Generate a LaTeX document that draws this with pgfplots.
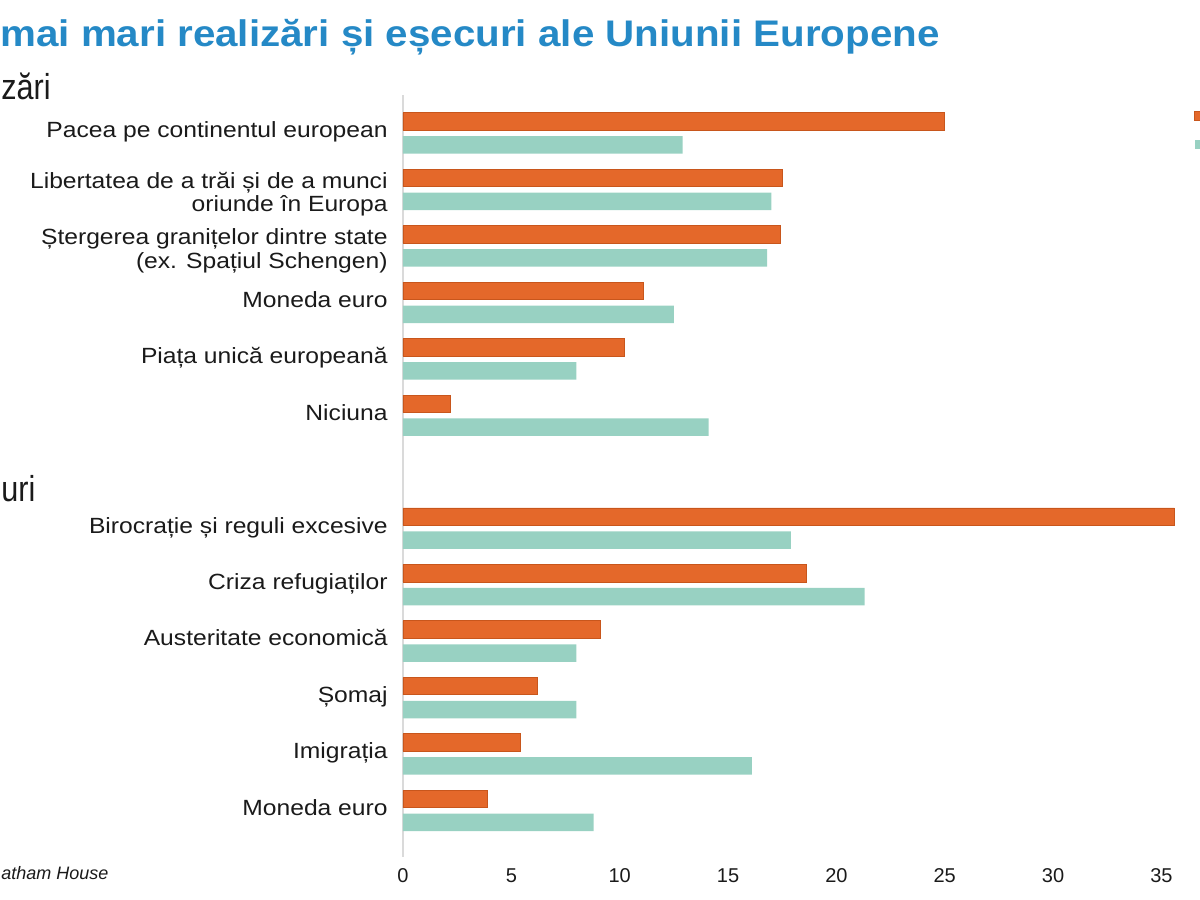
\documentclass[border=0pt]{standalone}
\usepackage{pgfplots}
\pgfplotsset{compat=1.18}
\usepackage{fontspec}
\setmainfont{Liberation Sans}
\usepackage{graphicx}
\definecolor{orangebar}{HTML}{E4682A}
\definecolor{orangeedge}{HTML}{C8561C}
\definecolor{tealbar}{HTML}{98D1C2}
\definecolor{titleblue}{HTML}{2589C6}
\definecolor{axisgray}{HTML}{DADADA}
\definecolor{txt}{HTML}{1A1A1A}
\newcommand{\lab}[1]{\scalebox{1.12}[1]{\begin{tabular}{@{}r@{}}#1\end{tabular}}}
\newcommand{\labb}[1]{\raisebox{-2.8pt}[\height][\depth]{\scalebox{1.12}[1]{\begin{tabular}{@{}r@{}}#1\end{tabular}}}}
\begin{document}
\begin{tikzpicture}[x=0.5pt,y=0.5pt]
\begin{axis}[
  at={(0,0)}, anchor=south west,
  scale only axis, width=390.06pt, height=381pt,
  xbar, bar width=8.75pt,
  xmin=0, xmax=36, ymin=-12.82, ymax=0.678,
  xtick={0,5,...,35},
  ytick={0,-1,-2,-3,-4,-5,-7,-8,-9,-10,-11,-12},
  yticklabels={
    {\lab{Pacea pe continentul european}},
    {\labb{Libertatea de a trăi și de a munci\\oriunde în Europa}},
    {\labb{Ștergerea granițelor dintre state\\(ex. Spațiul Schengen)}},
    {\lab{Moneda euro}},
    {\lab{Piața unică europeană}},
    {\lab{Niciuna}},
    {\lab{Birocrație și reguli excesive}},
    {\lab{Criza refugiaților}},
    {\lab{Austeritate economică}},
    {\lab{Șomaj}},
    {\lab{Imigrația}},
    {\lab{Moneda euro}}},
  axis x line*=bottom, axis y line*=left,
  x axis line style={draw=none},
  y axis line style={draw=axisgray, line width=0.6pt, -},
  major tick length=0pt, tick style={draw=none},
  yticklabel style={inner sep=0pt, xshift=-7.5pt, text=txt, font=\fontsize{11}{11.6}\selectfont},
  xticklabel style={inner sep=0pt, yshift=-5.5pt, text=txt, font=\fontsize{10}{12}\selectfont},
  /pgf/number format/assume math mode=true,
  clip=false,
  legend style={at={(axis cs:36.5,0.40)}, anchor=north west, draw=none, fill=none, inner sep=0pt, row sep=9.75pt, nodes={inner sep=0pt}},
  legend image code/.code={\fill[#1] (0pt,-2.25pt) rectangle (6pt,2.25pt);},
]
\addplot[fill=orangebar, draw=orangeedge, line width=0.4pt, bar shift=5.85pt] coordinates {
  (25.0,0) (17.5,-1) (17.4,-2) (11.1,-3) (10.2,-4) (2.2,-5)
  (35.6,-7) (18.6,-8) (9.1,-9) (6.2,-10) (5.4,-11) (3.9,-12)};
\addlegendentry{}
\addplot[fill=tealbar, draw=none, bar shift=-5.85pt] coordinates {
  (12.9,0) (17.0,-1) (16.8,-2) (12.5,-3) (8.0,-4) (14.1,-5)
  (17.9,-7) (21.3,-8) (8.0,-9) (8.0,-10) (16.1,-11) (8.8,-12)};
\addlegendentry{}
\end{axis}
\node[anchor=base west, inner sep=0pt, text=titleblue, font=\fontsize{18.5}{22}\selectfont\bfseries] at (-403,810) {\scalebox{1.09}[1]{mai mari realizări și eșecuri ale Uniunii Europene}};
\node[anchor=base west, inner sep=0pt, text=txt, font=\fontsize{18}{22}\selectfont] at (-402,757) {\scalebox{0.85}[1]{zări}};
\node[anchor=base west, inner sep=0pt, text=txt, font=\fontsize{18}{22}\selectfont] at (-402,355) {\scalebox{0.85}[1]{uri}};
\node[anchor=base west, inner sep=0pt, text=txt, font=\fontsize{9}{11}\selectfont\itshape] at (-402,-23) {atham House};
\pgfresetboundingbox
\useasboundingbox (-403,-43) rectangle (797,857);
\end{tikzpicture}
\end{document}
